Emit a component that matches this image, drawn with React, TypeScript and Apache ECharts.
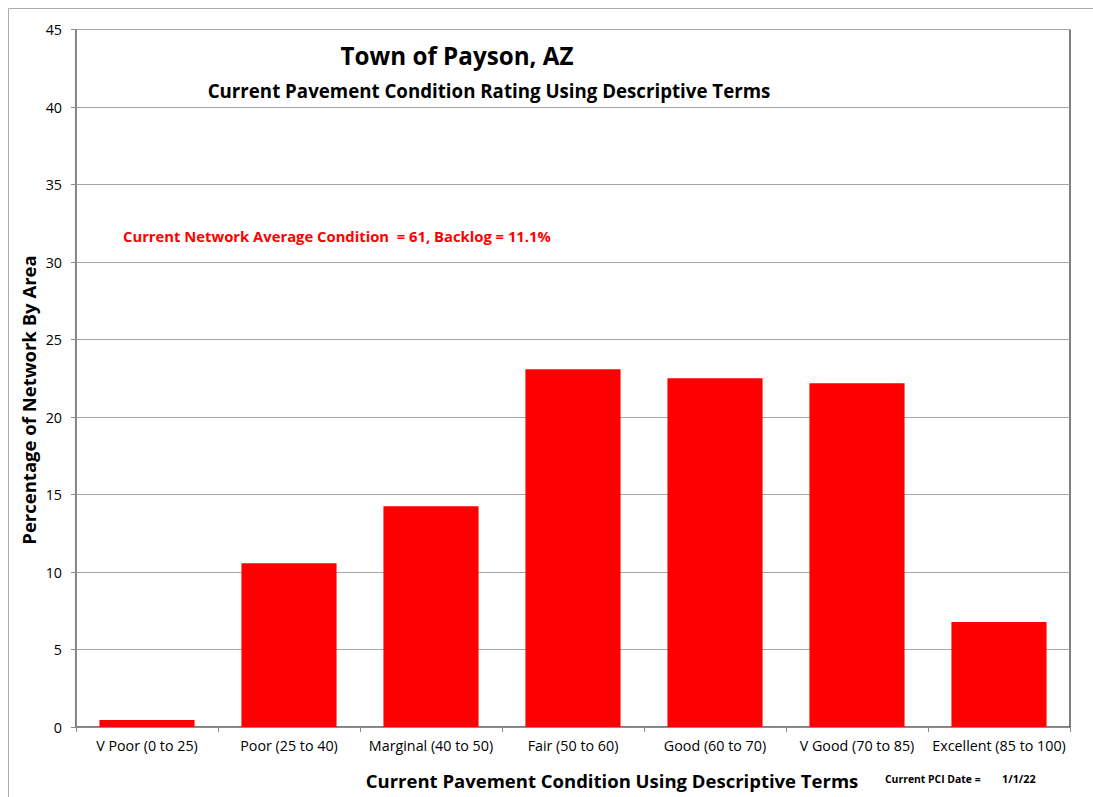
import React, { useEffect, useRef } from "react";
import * as echarts from "echarts";

const categories = [
  "V Poor (0 to 25)",
  "Poor (25 to 40)",
  "Marginal (40 to 50)",
  "Fair (50 to 60)",
  "Good (60 to 70)",
  "V Good (70 to 85)",
  "Excellent (85 to 100)",
];
const values = [0.45, 10.57, 14.25, 23.08, 22.5, 22.18, 6.77];

const titleText = "Town of Payson, AZ";
const subtitleText = "Current Pavement Condition Rating Using Descriptive Terms";
const noteText = "Current Network Average Condition  = 61, Backlog = 11.1%";
const xName = "Current Pavement Condition Using Descriptive Terms";
const yName = "Percentage of Network By Area";
const dateLabel = "Current PCI Date =";
const dateValue = "1/1/22";

const FONT = "'Open Sans', sans-serif";

export default function App() {
  const ref = useRef<HTMLDivElement>(null);
  useEffect(() => {
    if (!ref.current) return;
    const chart = echarts.init(ref.current, undefined, { renderer: "svg" });
    chart.setOption({
      animation: false,
      backgroundColor: "#fff",
      textStyle: { fontFamily: FONT },
      grid: {
        left: 76,
        right: 23,
        top: 29.5,
        bottom: 70,
        show: true,
        borderColor: "#000",
        borderWidth: 1,
        containLabel: false,
      },
      xAxis: {
        type: "category",
        data: categories,
        axisLine: { lineStyle: { color: "#8c8c8c", width: 1 } },
        axisTick: { show: true, length: 5, lineStyle: { color: "#8c8c8c" } },
        axisLabel: { color: "#000", fontSize: 14.3, fontFamily: FONT, margin: 11, interval: 0 },
        z: 5,
      },
      yAxis: {
        type: "value",
        min: 0,
        max: 45,
        interval: 5,
        axisLine: { show: true, lineStyle: { color: "#8c8c8c", width: 1 } },
        axisTick: { show: true, length: 5, lineStyle: { color: "#8c8c8c" } },
        axisLabel: { color: "#000", fontSize: 14.3, fontFamily: FONT, margin: 14 },
        splitLine: { show: true, lineStyle: { color: "#a6a6a6", width: 1 } },
      },
      series: [
        {
          type: "bar",
          data: values,
          barWidth: "67%",
          itemStyle: { color: "#ff0000" },
        },
      ],
      graphic: [
        {
          type: "rect",
          silent: true,
          shape: { x: 8.5, y: 8.5, width: 1200, height: 900 },
          style: { fill: "none", stroke: "#aaaaaa", lineWidth: 1 },
          z: -10,
        },
        {
          type: "text",
          x: 457,
          y: 55,
          style: {
            text: titleText,
            fontFamily: FONT,
            fontSize: 24.2,
            fontWeight: "bold",
            fill: "#000",
            align: "center",
            verticalAlign: "middle",
          },
        },
        {
          type: "text",
          x: 489,
          y: 90,
          style: {
            text: subtitleText,
            fontFamily: FONT,
            fontSize: 18.7,
            fontWeight: "bold",
            fill: "#000",
            align: "center",
            verticalAlign: "middle",
          },
        },
        {
          type: "text",
          x: 123,
          y: 236,
          style: {
            text: noteText,
            fontFamily: FONT,
            fontSize: 14.8,
            fontWeight: "bold",
            fill: "#ff0000",
            align: "left",
            verticalAlign: "middle",
          },
        },
        {
          type: "text",
          x: 612,
          y: 780,
          style: {
            text: xName,
            fontFamily: FONT,
            fontSize: 18.5,
            fontWeight: "bold",
            fill: "#000",
            align: "center",
            verticalAlign: "middle",
          },
        },
        {
          type: "text",
          x: 885,
          y: 779,
          style: {
            text: dateLabel,
            fontFamily: FONT,
            fontSize: 10.4,
            fontWeight: "bold",
            fill: "#000",
            align: "left",
            verticalAlign: "middle",
          },
        },
        {
          type: "text",
          x: 1002,
          y: 778,
          style: {
            text: dateValue,
            fontFamily: FONT,
            fontSize: 10.8,
            fontWeight: "bold",
            fill: "#000",
            align: "left",
            verticalAlign: "middle",
          },
        },
        {
          type: "text",
          x: 28,
          y: 400,
          rotation: Math.PI / 2,
          style: {
            text: yName,
            fontFamily: FONT,
            fontSize: 18.5,
            fontWeight: "bold",
            fill: "#000",
            align: "center",
            verticalAlign: "middle",
          },
        },
      ],
    });
    return () => chart.dispose();
  }, []);
  return (
    <div
      ref={ref}
      style={{ position: "absolute", left: 0, top: 0, width: 1093, height: 797 }}
    />
  );
}
